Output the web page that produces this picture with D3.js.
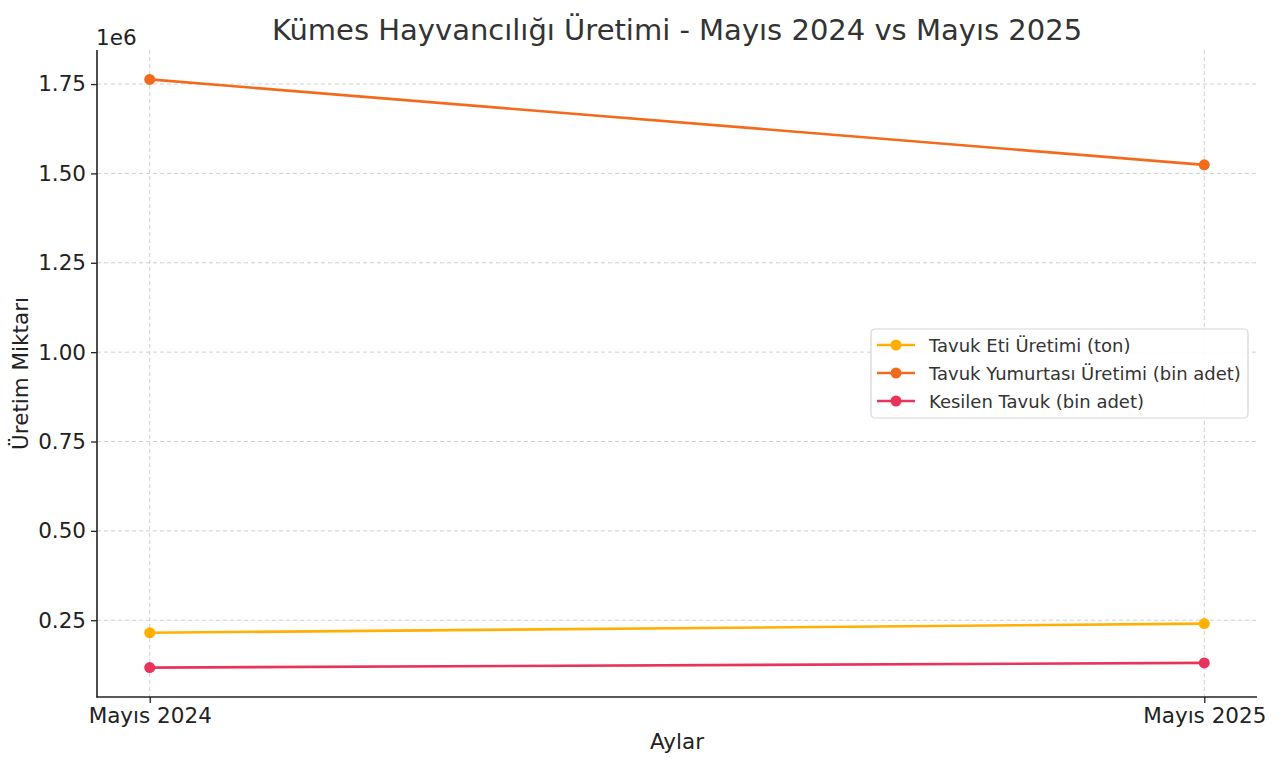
<!DOCTYPE html>
<html>
<head>
<meta charset="utf-8">
<script src="https://cdn.jsdelivr.net/npm/d3@7"></script>
<style>
  body { margin: 0; background: #fff; }
  svg { font-family: "DejaVu Sans", sans-serif; }
</style>
</head>
<body>
<div id="chart"></div>
<script>
// data
const months = ['Mayıs 2024', 'Mayıs 2025'];
const tavukEti = [215000, 240500];
const yumurta = [1763000, 1524000];
const kesilen = [117500, 130600];
const seriesNames = ['Tavuk Eti Üretimi (ton)', 'Tavuk Yumurtası Üretimi (bin adet)', 'Kesilen Tavuk (bin adet)'];
const seriesColors = ['#FFB000', '#F26B1D', '#E8335A'];
const yTicks = [250000, 500000, 750000, 1000000, 1250000, 1500000, 1750000];

const W = 1280, H = 767;
const m = { left: 97, right: 23, top: 50, bottom: 70 };
const FS = 21.5;

const svg = d3.select('#chart').append('svg')
  .attr('width', W)
  .attr('height', H);

const series = [tavukEti, yumurta, kesilen].map((vals, i) => ({
  name: seriesNames[i], color: seriesColors[i],
  pts: vals.map((v, j) => ({ m: months[j], v: v }))
}));

// matplotlib-like 5% margins
const all = [].concat(tavukEti, yumurta, kesilen);
const lo = d3.min(all), hi = d3.max(all), pad = (hi - lo) * 0.05;

const xs = d3.scaleLinear().domain([-0.05, 1.05]).range([m.left, W - m.right]);
const xPos = d => xs(months.indexOf(d));
const y = d3.scaleLinear().domain([lo - pad, hi + pad]).range([H - m.bottom, m.top]);

// grid
const grid = svg.append('g').attr('stroke', '#cfcfcf').attr('stroke-width', 1).attr('stroke-dasharray', '4,3');
grid.selectAll('.gy').data(yTicks).enter().append('line')
  .attr('x1', m.left).attr('x2', W - m.right)
  .attr('y1', d => y(d)).attr('y2', d => y(d));
grid.selectAll('.gx').data(months).enter().append('line')
  .attr('x1', d => xPos(d)).attr('x2', d => xPos(d))
  .attr('y1', m.top).attr('y2', H - m.bottom);

// axes
const yAxis = svg.append('g').attr('transform', `translate(${m.left},0)`)
  .call(d3.axisLeft(y).tickValues(yTicks).tickSize(6).tickPadding(5).tickFormat(d => (d / 1e6).toFixed(2)));
const xAxis = svg.append('g').attr('transform', `translate(0,${H - m.bottom})`)
  .call(d3.axisBottom(xs).tickValues([0, 1]).tickSize(6).tickPadding(5).tickFormat(i => months[i]));
[xAxis, yAxis].forEach(a => {
  a.select('.domain').remove();
  a.selectAll('text').attr('font-size', FS).attr('fill', '#222').attr('font-family', '"DejaVu Sans", sans-serif');
  a.selectAll('line').attr('stroke', '#222').attr('stroke-width', 1.3);
});
svg.append('line').attr('x1', m.left).attr('x2', m.left).attr('y1', m.top).attr('y2', H - m.bottom + 0.6)
  .attr('stroke', '#222').attr('stroke-width', 1.6);
svg.append('line').attr('x1', m.left - 0.6).attr('x2', W - m.right).attr('y1', H - m.bottom).attr('y2', H - m.bottom)
  .attr('stroke', '#222').attr('stroke-width', 1.6);

// offset label
svg.append('text').attr('x', m.left - 1).attr('y', 45).attr('font-size', FS).attr('fill', '#222').text('1e6');

// lines
const line = d3.line().x(d => xPos(d.m)).y(d => y(d.v));
const g = svg.append('g');
series.forEach(s => {
  g.append('path').datum(s.pts).attr('d', line)
    .attr('fill', 'none').attr('stroke', s.color).attr('stroke-width', 2.6);
  g.selectAll(null).data(s.pts).enter().append('circle')
    .attr('cx', d => xPos(d.m)).attr('cy', d => y(d.v)).attr('r', 5.5).attr('fill', s.color);
});

// title and labels
svg.append('text').attr('x', (m.left + W - m.right) / 2).attr('y', 40).attr('text-anchor', 'middle')
  .attr('font-size', 29).attr('fill', '#333').text('Kümes Hayvancılığı Üretimi - Mayıs 2024 vs Mayıs 2025');
svg.append('text').attr('x', (m.left + W - m.right) / 2).attr('y', 749).attr('text-anchor', 'middle')
  .attr('font-size', FS).attr('fill', '#222').text('Aylar');
svg.append('text').attr('transform', `translate(28,${(m.top + H - m.bottom) / 2}) rotate(-90)`)
  .attr('text-anchor', 'middle').attr('font-size', FS).attr('fill', '#222').text('Üretim Miktarı');

// legend
const lg = svg.append('g').attr('transform', 'translate(871,329)');
lg.append('rect').attr('width', 377).attr('height', 89).attr('rx', 4)
  .attr('fill', 'rgba(255,255,255,0.85)').attr('stroke', '#d6d6d6').attr('stroke-width', 1.2);
series.forEach((s, i) => {
  const row = lg.append('g').attr('transform', `translate(0,${16 + i * 28})`);
  row.append('line').attr('x1', 6).attr('x2', 44).attr('stroke', s.color).attr('stroke-width', 2.6);
  row.append('circle').attr('cx', 25).attr('r', 5.5).attr('fill', s.color);
  row.append('text').attr('x', 58).attr('y', 6.5).attr('font-size', 18).attr('fill', '#333').text(s.name);
});
</script>
</body>
</html>
